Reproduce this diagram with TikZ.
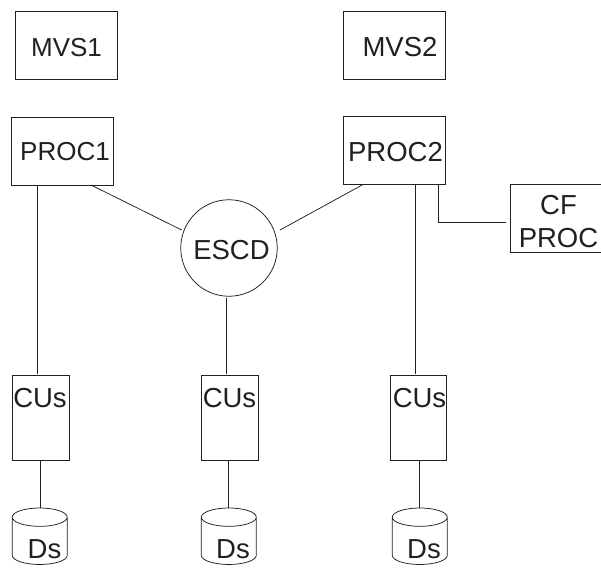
\documentclass[tikz,border=0pt]{standalone}
\usepackage{fontspec}
\setmainfont{Liberation Sans}
\usepackage{tikz}
\usetikzlibrary{shapes.geometric, positioning, calc}
\definecolor{inkline}{HTML}{231F20}
\tikzset{
    sysbox/.style={draw=inkline, line width=0.75pt, inner sep=0pt, outer sep=0pt},
    cubox/.style={sysbox, minimum width=56.5pt, minimum height=84.5pt},
    tagtext/.style={text=inkline, font=\fontsize{27.5}{33}\selectfont, inner sep=0pt, anchor=base, align=center},
    tagsmall/.style={tagtext, font=\fontsize{26}{33}\selectfont},
    link/.style={draw=inkline, line width=0.75pt},
    disk/.style={cylinder, shape border rotate=90, aspect=1.5, draw=inkline, line width=0.75pt, minimum width=55pt, minimum height=56.5pt, inner sep=0pt, outer sep=0pt}
}
\begin{document}
\begin{tikzpicture}[x=1pt, y=-1pt]
    \useasboundingbox (0,0) rectangle (601,570);
    % 1. Systems
    \node[sysbox, minimum width=102pt, minimum height=68pt] (mvsa) at (66,45) {};
    \node[sysbox, minimum width=102pt, minimum height=68pt] (mvsb) at (394.7,45) {};
    \node[tagsmall] (mvsatext) at (66.5,56) {MVS1};
    \node[tagtext] (mvsbtext) at (400,56) {MVS2};

    % 2. Processors
    \node[sysbox, minimum width=102pt, minimum height=68pt] (proca) at (62.5,151) {};
    \node[sysbox, minimum width=102pt, minimum height=68pt] (procb) at (394.7,150.7) {};
    \node[sysbox, minimum width=94pt, minimum height=68pt] (cfproc) at (557,218.7) {};
    \node[sysbox, circle, minimum size=96.5pt] (escd) at (229,248) {};
    \node[tagsmall] (procatext) at (65,160) {PROC1};
    \node[tagtext] (procbtext) at (395.5,161) {PROC2};
    \node[tagtext, anchor=center] (cftext) at (558.5,221.5) {CF\\PROC};
    \node[tagtext] (escdtext) at (231.5,259) {ESCD};

    % 3. Control units
    \node[cubox] (cua) at (40.75,418) {};
    \node[cubox] (cub) at (229.85,418) {};
    \node[cubox] (cuc) at (418.15,418) {};
    \node[tagtext] (cuatext) at (40,407.7) {CUs};
    \node[tagtext] (cubtext) at (229.5,407.7) {CUs};
    \node[tagtext] (cuctext) at (419.5,407.7) {CUs};

    % 4. Devices
    \node[disk] (dsa) at (39.7,541) {\phantom{Ds}};
    \node[disk] (dsb) at (228.8,541) {\phantom{Ds}};
    \node[disk] (dsc) at (419.8,541) {\phantom{Ds}};
    \node[tagtext] (dsatext) at (44.5,558.5) {Ds};
    \node[tagtext] (dsbtext) at (233,558.5) {Ds};
    \node[tagtext] (dsctext) at (424,558.5) {Ds};

    % 5. Links
    \coordinate (procafoot) at (37.7,185);
    \coordinate (procbfoot) at (415.3,184.7);
    \coordinate (escdfoot) at (226.7,297.7);
    \coordinate (procaout) at (91,185);
    \coordinate (procbout) at (362.7,184.7);
    \coordinate (escdwest) at (181.7,230);
    \coordinate (escdeast) at (280,230);
    \coordinate (cfelbow) at (438,222.7);
    \draw[link, shorten >=2pt] (procafoot) -- (procafoot |- cua.north);
    \draw[link, shorten >=2pt] (procbfoot) -- (procbfoot |- cuc.north);
    \draw[link, shorten >=2pt] (escdfoot) -- (escdfoot |- cub.north);
    \draw[link] (procaout) -- (escdwest);
    \draw[link] (procbout) -- (escdeast);
    \draw[link, shorten >=4pt] (cfelbow |- procb.south) -- (cfelbow) -- (cfelbow -| cfproc.west);
    \draw[link] (cua.south) -- (cua.south |- dsa.north);
    \draw[link] (dsb.north |- cub.south) -- (dsb.north);
    \draw[link] (dsc.north |- cuc.south) -- (dsc.north);
\end{tikzpicture}
\end{document}
